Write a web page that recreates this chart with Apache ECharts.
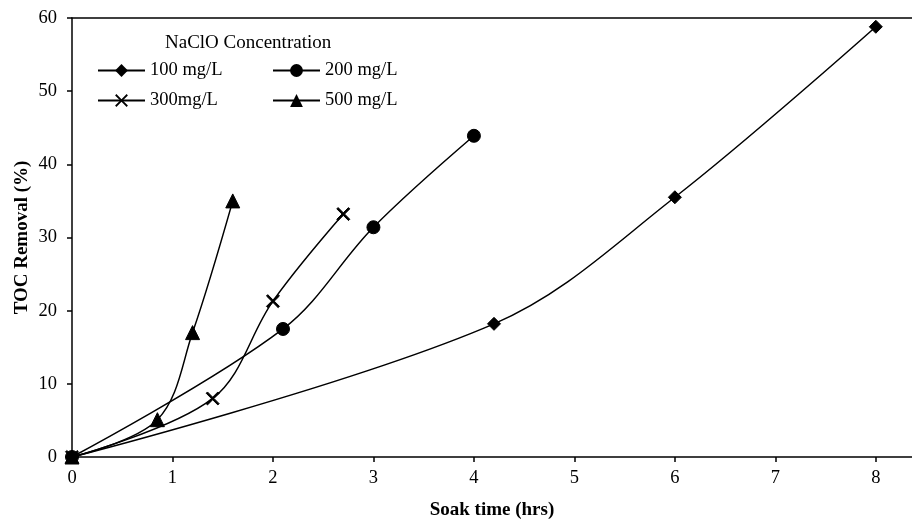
<!DOCTYPE html>
<html><head><meta charset="utf-8">
<script src="https://cdn.jsdelivr.net/npm/echarts@6/dist/echarts.min.js"></script>
<style>html,body{margin:0;padding:0;background:#fff}#c{width:912px;height:519px}</style>
</head><body><div id="c"></div>
<script>
const seriesNames = ['100 mg/L', '200 mg/L', '300mg/L', '500 mg/L'];
const time100 = [0, 4.2, 6, 8];
const toc100 = [0, 18.2, 35.5, 58.8];
const time200 = [0, 2.1, 3, 4];
const toc200 = [0, 17.5, 31.4, 43.9];
const time300 = [0, 1.4, 2, 2.7];
const toc300 = [0, 8.0, 21.3, 33.2];
const time500 = [0, 0.85, 1.2, 1.6];
const toc500 = [0, 5.1, 17.0, 35.0];
const xTicks = [0, 1, 2, 3, 4, 5, 6, 7, 8];

const FONT = '"Liberation Serif", "Times New Roman", serif';
const crossPath = 'path://M0,1L1,0L5,4L9,0L10,1L6,5L10,9L9,10L5,6L1,10L0,9L4,5Z';
const symbols = ['diamond', 'circle', crossPath, 'triangle'];
const sizes = [13, 13, 13, 14];
const xs = [time100, time200, time300, time500];
const ys = [toc100, toc200, toc300, toc500];

const series = seriesNames.map((n, i) => ({
  name: n, type: 'line', smooth: 0.35,
  data: xs[i].map((x, j) => [x, ys[i][j]]),
  symbol: symbols[i], symbolSize: sizes[i], showSymbol: true,
  lineStyle: { color: '#000', width: 1.5 },
  itemStyle: { color: '#000', borderColor: '#000' },
  z: 3
}));

const legendPos = [[97, 61], [272, 61], [97, 91], [272, 91]];
const legends = seriesNames.map((n, i) => ({
  data: [n], left: legendPos[i][0], top: legendPos[i][1], padding: 0,
  itemWidth: 47, itemHeight: 16, itemGap: 6,
  textStyle: { fontFamily: FONT, fontSize: 18.5, color: '#000' },
  selectedMode: false
}));

const chart = echarts.init(document.getElementById('c'));
chart.setOption({
  animation: false,
  backgroundColor: '#fff',
  title: { text: 'NaClO Concentration', left: 160, top: 29,
    textStyle: { fontFamily: FONT, fontSize: 19, fontWeight: 'normal', color: '#000' } },
  legend: legends,
  grid: { left: 72, right: 0, top: 18, bottom: 62, containLabel: false, outerBoundsMode: 'none' },
  xAxis: [{
    type: 'value', min: 0, max: 8.36, interval: 1,
    name: 'Soak time (hrs)', nameLocation: 'middle', nameGap: 44,
    nameTextStyle: { fontFamily: FONT, fontSize: 19, fontWeight: 'bold', color: '#000' },
    axisLine: { show: true, lineStyle: { color: '#000', width: 1.5 } },
    axisTick: { show: true, length: 5, customValues: xTicks, lineStyle: { color: '#000', width: 1.5 } },
    axisLabel: { customValues: xTicks, margin: 12, fontFamily: FONT, fontSize: 18.5, color: '#000' },
    splitLine: { show: false }
  }, {
    type: 'value', position: 'top', min: 0, max: 8.36,
    axisLine: { show: true, onZero: false, lineStyle: { color: '#000', width: 1.5 } },
    axisTick: { show: false }, axisLabel: { show: false }, splitLine: { show: false }
  }],
  yAxis: {
    type: 'value', min: 0, max: 60, interval: 10,
    name: 'TOC Removal (%)', nameLocation: 'middle', nameGap: 40, nameMoveOverlap: false,
    nameTextStyle: { fontFamily: FONT, fontSize: 19, fontWeight: 'bold', color: '#000' },
    axisLine: { show: true, lineStyle: { color: '#000', width: 1.5 } },
    axisTick: { show: true, length: 5, lineStyle: { color: '#000', width: 1.5 } },
    axisLabel: { margin: 15, fontFamily: FONT, fontSize: 18.5, color: '#000' },
    splitLine: { show: false }
  },
  series: series
});
</script></body></html>
